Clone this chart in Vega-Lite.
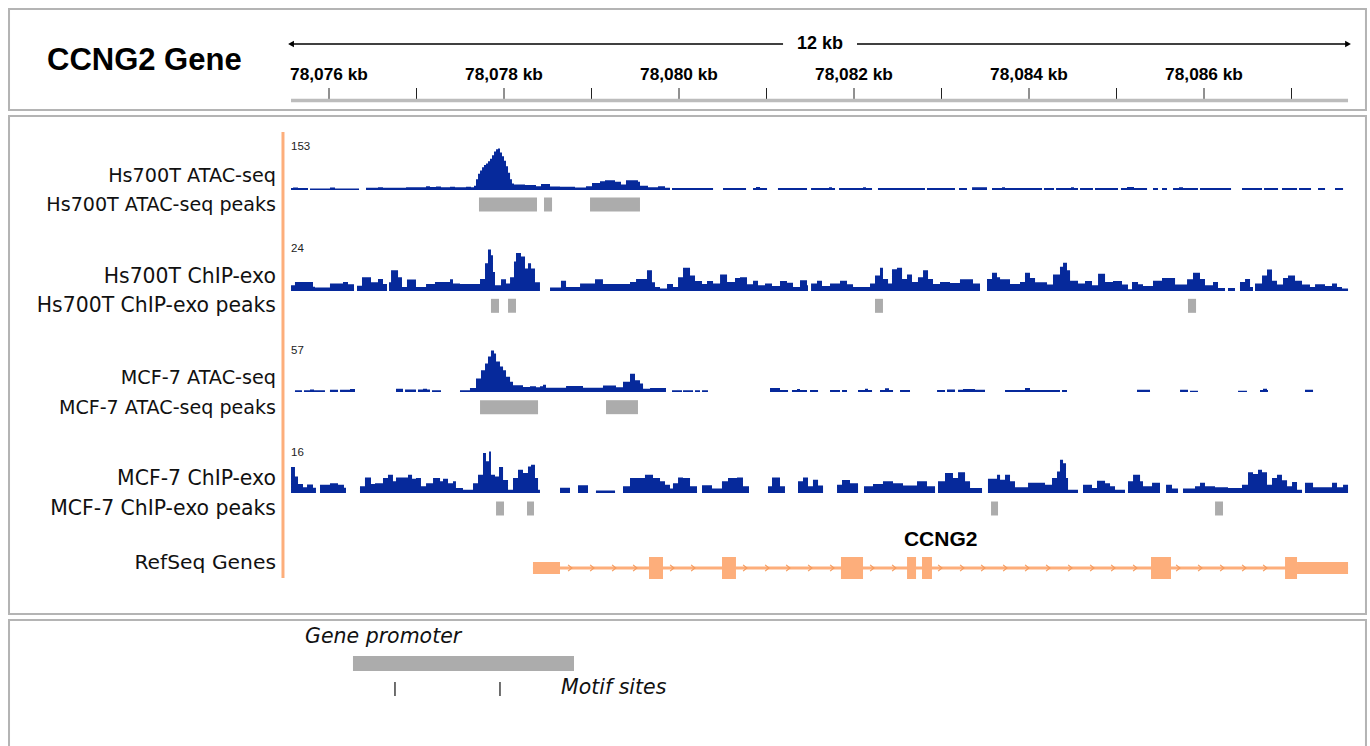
{
"$schema": "https://vega.github.io/schema/vega-lite/v6.json",
"width": 1370, "height": 746,
"autosize": {"type": "fit", "contains": "padding"},
"padding": 0,
"background": "white",
"config": {"view": {"stroke": null}, "axis": {"disable": true}, "legend": {"disable": true}},
"resolve": {"scale": {"y": "independent"}},
"datasets": {
"hsAtac": [
{"s":78075.566,"v":7},{"s":78075.589,"v":9},{"s":78075.646,"v":7},{"s":78075.760,"v":0},{"s":78075.783,"v":6},{"s":78076.011,"v":9},{"s":78076.069,"v":6},{"s":78076.343,"v":0},{"s":78076.423,"v":8},{"s":78076.560,"v":10},{"s":78076.617,"v":8},{"s":78076.880,"v":10},{"s":78077.109,"v":14},{"s":78077.154,"v":11},{"s":78077.223,"v":13},{"s":78077.280,"v":10},{"s":78077.383,"v":12},{"s":78077.440,"v":10},{"s":78077.566,"v":12},{"s":78077.623,"v":10},{"s":78077.657,"v":16},{"s":78077.680,"v":40},{"s":78077.703,"v":60},{"s":78077.726,"v":72},{"s":78077.749,"v":84},{"s":78077.771,"v":92},{"s":78077.794,"v":98},{"s":78077.817,"v":106},{"s":78077.840,"v":115},{"s":78077.863,"v":128},{"s":78077.886,"v":142},{"s":78077.909,"v":150},{"s":78077.931,"v":153},{"s":78077.954,"v":138},{"s":78077.977,"v":124},{"s":78078.000,"v":108},{"s":78078.023,"v":88},{"s":78078.046,"v":64},{"s":78078.069,"v":40},{"s":78078.091,"v":24},{"s":78078.114,"v":20},{"s":78078.240,"v":18},{"s":78078.366,"v":14},{"s":78078.423,"v":22},{"s":78078.526,"v":13},{"s":78078.640,"v":12},{"s":78078.811,"v":9},{"s":78078.937,"v":14},{"s":78079.006,"v":26},{"s":78079.097,"v":32},{"s":78079.154,"v":36},{"s":78079.269,"v":30},{"s":78079.337,"v":20},{"s":78079.394,"v":36},{"s":78079.531,"v":30},{"s":78079.554,"v":16},{"s":78079.646,"v":10},{"s":78079.760,"v":14},{"s":78079.840,"v":8},{"s":78079.897,"v":0},{"s":78079.920,"v":7},{"s":78080.389,"v":0},{"s":78080.503,"v":7},{"s":78080.766,"v":0},{"s":78080.846,"v":7},{"s":78080.880,"v":11},{"s":78080.926,"v":7},{"s":78081.006,"v":0},{"s":78081.131,"v":7},{"s":78081.463,"v":0},{"s":78081.509,"v":7},{"s":78081.714,"v":10},{"s":78081.749,"v":7},{"s":78081.783,"v":0},{"s":78081.829,"v":7},{"s":78082.103,"v":10},{"s":78082.137,"v":7},{"s":78082.206,"v":0},{"s":78082.274,"v":7},{"s":78082.811,"v":0},{"s":78082.834,"v":7},{"s":78083.154,"v":0},{"s":78083.200,"v":7},{"s":78083.291,"v":0},{"s":78083.349,"v":10},{"s":78083.520,"v":0},{"s":78083.577,"v":7},{"s":78083.691,"v":10},{"s":78083.726,"v":7},{"s":78084.149,"v":0},{"s":78084.171,"v":7},{"s":78084.286,"v":0},{"s":78084.309,"v":7},{"s":78084.480,"v":10},{"s":78084.514,"v":7},{"s":78084.560,"v":0},{"s":78084.583,"v":7},{"s":78084.731,"v":0},{"s":78084.754,"v":7},{"s":78085.017,"v":0},{"s":78085.051,"v":7},{"s":78085.120,"v":11},{"s":78085.200,"v":7},{"s":78085.349,"v":0},{"s":78085.417,"v":7},{"s":78085.474,"v":0},{"s":78085.520,"v":7},{"s":78085.577,"v":0},{"s":78085.646,"v":7},{"s":78085.714,"v":10},{"s":78085.760,"v":7},{"s":78085.931,"v":0},{"s":78085.954,"v":7},{"s":78086.309,"v":0},{"s":78086.434,"v":7},{"s":78086.663,"v":0},{"s":78086.686,"v":7},{"s":78086.846,"v":0},{"s":78086.891,"v":7},{"s":78087.063,"v":0},{"s":78087.086,"v":7},{"s":78087.223,"v":0},{"s":78087.303,"v":7},{"s":78087.383,"v":0},{"s":78087.497,"v":7},{"s":78087.589,"v":0}
],
"hsChip": [
{"s":78075.566,"v":3.3},{"s":78075.611,"v":5.2},{"s":78075.817,"v":2.5},{"s":78075.840,"v":2},{"s":78076.011,"v":4.3},{"s":78076.160,"v":5.2},{"s":78076.217,"v":3.9},{"s":78076.286,"v":0},{"s":78076.320,"v":3},{"s":78076.377,"v":8},{"s":78076.480,"v":5},{"s":78076.560,"v":7},{"s":78076.617,"v":4},{"s":78076.663,"v":0},{"s":78076.686,"v":5},{"s":78076.709,"v":12},{"s":78076.789,"v":8},{"s":78076.834,"v":2.3},{"s":78076.891,"v":6.6},{"s":78076.994,"v":2.3},{"s":78077.109,"v":4},{"s":78077.211,"v":5.2},{"s":78077.383,"v":6.8},{"s":78077.417,"v":4.3},{"s":78077.497,"v":4},{"s":78077.726,"v":7},{"s":78077.783,"v":16},{"s":78077.817,"v":24},{"s":78077.851,"v":20.7},{"s":78077.874,"v":11},{"s":78077.897,"v":3.3},{"s":78077.966,"v":6.8},{"s":78078.023,"v":4.3},{"s":78078.069,"v":8},{"s":78078.114,"v":17},{"s":78078.137,"v":22},{"s":78078.194,"v":20},{"s":78078.240,"v":13},{"s":78078.274,"v":16},{"s":78078.309,"v":13},{"s":78078.354,"v":5},{"s":78078.411,"v":0},{"s":78078.526,"v":2},{"s":78078.651,"v":6},{"s":78078.709,"v":2.3},{"s":78078.869,"v":4.3},{"s":78079.040,"v":6.8},{"s":78079.131,"v":4},{"s":78079.440,"v":5.2},{"s":78079.509,"v":7},{"s":78079.634,"v":12},{"s":78079.691,"v":5},{"s":78079.726,"v":2.3},{"s":78079.783,"v":1.4},{"s":78079.863,"v":4},{"s":78079.931,"v":2.3},{"s":78079.989,"v":8},{"s":78080.046,"v":13.5},{"s":78080.126,"v":9},{"s":78080.183,"v":5.8},{"s":78080.263,"v":4},{"s":78080.320,"v":5.8},{"s":78080.389,"v":4.3},{"s":78080.469,"v":9.5},{"s":78080.549,"v":5.2},{"s":78080.640,"v":7.5},{"s":78080.697,"v":8},{"s":78080.777,"v":3.9},{"s":78080.846,"v":6},{"s":78080.903,"v":3.3},{"s":78080.983,"v":4.3},{"s":78081.063,"v":2.9},{"s":78081.154,"v":5.8},{"s":78081.234,"v":4.8},{"s":78081.303,"v":2.3},{"s":78081.383,"v":6.2},{"s":78081.463,"v":3.3},{"s":78081.474,"v":0},{"s":78081.509,"v":4.3},{"s":78081.577,"v":6},{"s":78081.634,"v":2.9},{"s":78081.726,"v":4.3},{"s":78081.840,"v":6},{"s":78081.920,"v":3.9},{"s":78081.989,"v":2.3},{"s":78082.183,"v":4.3},{"s":78082.240,"v":9},{"s":78082.297,"v":13.5},{"s":78082.331,"v":7},{"s":78082.389,"v":4.3},{"s":78082.434,"v":12.6},{"s":78082.491,"v":13.4},{"s":78082.549,"v":7},{"s":78082.606,"v":9.5},{"s":78082.663,"v":5.2},{"s":78082.731,"v":8},{"s":78082.789,"v":12},{"s":78082.846,"v":7},{"s":78082.903,"v":4},{"s":78082.983,"v":5.2},{"s":78083.097,"v":4.6},{"s":78083.211,"v":6.8},{"s":78083.360,"v":4.3},{"s":78083.440,"v":0},{"s":78083.520,"v":7},{"s":78083.577,"v":10.6},{"s":78083.634,"v":8},{"s":78083.669,"v":6.8},{"s":78083.783,"v":4},{"s":78083.897,"v":5.2},{"s":78083.954,"v":10.6},{"s":78084.011,"v":7.5},{"s":78084.069,"v":5},{"s":78084.206,"v":3.7},{"s":78084.274,"v":9.5},{"s":78084.354,"v":14},{"s":78084.389,"v":16.3},{"s":78084.434,"v":12},{"s":78084.469,"v":6},{"s":78084.560,"v":4.3},{"s":78084.640,"v":5.8},{"s":78084.720,"v":3.3},{"s":78084.789,"v":10},{"s":78084.869,"v":5.2},{"s":78084.960,"v":5.8},{"s":78085.063,"v":3.7},{"s":78085.131,"v":1},{"s":78085.177,"v":5.2},{"s":78085.246,"v":3.9},{"s":78085.303,"v":2.9},{"s":78085.417,"v":6},{"s":78085.520,"v":7.5},{"s":78085.669,"v":3.7},{"s":78085.806,"v":6.8},{"s":78085.874,"v":10.6},{"s":78085.954,"v":7},{"s":78086.011,"v":3.3},{"s":78086.103,"v":5.2},{"s":78086.160,"v":1.7},{"s":78086.240,"v":0},{"s":78086.274,"v":1.7},{"s":78086.354,"v":0},{"s":78086.411,"v":5.2},{"s":78086.469,"v":7},{"s":78086.526,"v":2.3},{"s":78086.560,"v":0},{"s":78086.583,"v":4.3},{"s":78086.663,"v":9},{"s":78086.720,"v":12.4},{"s":78086.777,"v":6},{"s":78086.834,"v":3.7},{"s":78086.903,"v":7.5},{"s":78086.960,"v":9},{"s":78087.040,"v":6},{"s":78087.120,"v":3.7},{"s":78087.211,"v":2.3},{"s":78087.269,"v":3.9},{"s":78087.383,"v":2.9},{"s":78087.463,"v":4.3},{"s":78087.520,"v":2.3},{"s":78087.577,"v":1.4},{"s":78087.646,"v":0}
],
"mcfAtac": [
{"s":78075.611,"v":2.5},{"s":78075.691,"v":0},{"s":78075.714,"v":2.5},{"s":78075.783,"v":3.5},{"s":78075.829,"v":2.5},{"s":78075.954,"v":0},{"s":78076.011,"v":3},{"s":78076.103,"v":0},{"s":78076.126,"v":3},{"s":78076.240,"v":4},{"s":78076.297,"v":0},{"s":78076.766,"v":4.5},{"s":78076.846,"v":0},{"s":78076.869,"v":3.5},{"s":78076.994,"v":0},{"s":78077.017,"v":3.5},{"s":78077.074,"v":4.5},{"s":78077.120,"v":3.5},{"s":78077.154,"v":0},{"s":78077.177,"v":2.5},{"s":78077.280,"v":0},{"s":78077.497,"v":2.3},{"s":78077.611,"v":5.5},{"s":78077.680,"v":18.5},{"s":78077.737,"v":30},{"s":78077.783,"v":39},{"s":78077.817,"v":48.6},{"s":78077.851,"v":57},{"s":78077.886,"v":53},{"s":78077.909,"v":42},{"s":78077.954,"v":35},{"s":78077.989,"v":30},{"s":78078.023,"v":21},{"s":78078.069,"v":14},{"s":78078.103,"v":9.3},{"s":78078.217,"v":7},{"s":78078.297,"v":8},{"s":78078.366,"v":6.5},{"s":78078.411,"v":8},{"s":78078.446,"v":10},{"s":78078.480,"v":6},{"s":78078.709,"v":8.3},{"s":78078.903,"v":6},{"s":78079.131,"v":9},{"s":78079.280,"v":6.5},{"s":78079.360,"v":14},{"s":78079.440,"v":25},{"s":78079.497,"v":16},{"s":78079.554,"v":11.6},{"s":78079.589,"v":4.6},{"s":78079.669,"v":5.5},{"s":78079.851,"v":0},{"s":78079.920,"v":2.5},{"s":78080.034,"v":0},{"s":78080.046,"v":2.5},{"s":78080.160,"v":0},{"s":78080.183,"v":2.5},{"s":78080.240,"v":0},{"s":78080.263,"v":2.5},{"s":78080.331,"v":0},{"s":78081.040,"v":5.5},{"s":78081.154,"v":2.8},{"s":78081.246,"v":0},{"s":78081.291,"v":2.8},{"s":78081.349,"v":4},{"s":78081.383,"v":2.8},{"s":78081.463,"v":0},{"s":78081.497,"v":2.8},{"s":78081.589,"v":0},{"s":78081.726,"v":2.8},{"s":78081.840,"v":0},{"s":78081.863,"v":2.8},{"s":78081.920,"v":0},{"s":78082.046,"v":2.8},{"s":78082.126,"v":4.5},{"s":78082.160,"v":2.8},{"s":78082.206,"v":0},{"s":78082.297,"v":2.8},{"s":78082.354,"v":5},{"s":78082.400,"v":2.8},{"s":78082.446,"v":0},{"s":78082.526,"v":2.8},{"s":78082.640,"v":0},{"s":78082.949,"v":2.8},{"s":78083.040,"v":0},{"s":78083.063,"v":3.5},{"s":78083.154,"v":0},{"s":78083.189,"v":3},{"s":78083.246,"v":4.2},{"s":78083.383,"v":3},{"s":78083.497,"v":0},{"s":78083.726,"v":2.8},{"s":78083.954,"v":5.5},{"s":78084.011,"v":2.8},{"s":78084.354,"v":0},{"s":78084.377,"v":2.8},{"s":78084.434,"v":0},{"s":78085.234,"v":3},{"s":78085.383,"v":0},{"s":78085.726,"v":3},{"s":78085.817,"v":0},{"s":78085.840,"v":1.8},{"s":78085.931,"v":0},{"s":78086.389,"v":1.8},{"s":78086.491,"v":0},{"s":78086.640,"v":2.8},{"s":78086.674,"v":4.5},{"s":78086.720,"v":2.8},{"s":78086.731,"v":0},{"s":78087.154,"v":3},{"s":78087.246,"v":0}
],
"mcfChip": [
{"s":78075.566,"v":10},{"s":78075.611,"v":6.4},{"s":78075.646,"v":3.5},{"s":78075.703,"v":2.2},{"s":78075.749,"v":3.3},{"s":78075.817,"v":2},{"s":78075.851,"v":0},{"s":78075.897,"v":3.2},{"s":78076.011,"v":3.8},{"s":78076.103,"v":3.2},{"s":78076.171,"v":2},{"s":78076.194,"v":0},{"s":78076.354,"v":2.6},{"s":78076.411,"v":6},{"s":78076.480,"v":3.5},{"s":78076.526,"v":3.8},{"s":78076.617,"v":5.8},{"s":78076.674,"v":7},{"s":78076.731,"v":4.5},{"s":78076.766,"v":6},{"s":78076.823,"v":6},{"s":78076.903,"v":7},{"s":78076.949,"v":5.5},{"s":78076.994,"v":5.8},{"s":78077.051,"v":2.6},{"s":78077.109,"v":3.8},{"s":78077.189,"v":5.8},{"s":78077.269,"v":4.5},{"s":78077.303,"v":5.5},{"s":78077.360,"v":3.8},{"s":78077.417,"v":4.5},{"s":78077.451,"v":1.9},{"s":78077.531,"v":1.3},{"s":78077.646,"v":3.8},{"s":78077.703,"v":7},{"s":78077.760,"v":15.4},{"s":78077.794,"v":12.2},{"s":78077.829,"v":16},{"s":78077.851,"v":7},{"s":78077.897,"v":6.4},{"s":78077.943,"v":10},{"s":78077.989,"v":5},{"s":78078.046,"v":1.3},{"s":78078.103,"v":5.8},{"s":78078.160,"v":9},{"s":78078.217,"v":7.7},{"s":78078.274,"v":10.2},{"s":78078.309,"v":10.9},{"s":78078.354,"v":5.8},{"s":78078.389,"v":1.3},{"s":78078.411,"v":0},{"s":78078.640,"v":2},{"s":78078.754,"v":0},{"s":78078.846,"v":3},{"s":78078.960,"v":0},{"s":78079.051,"v":1},{"s":78079.269,"v":0},{"s":78079.360,"v":2.6},{"s":78079.440,"v":5.8},{"s":78079.611,"v":7},{"s":78079.703,"v":5.8},{"s":78079.783,"v":4.5},{"s":78079.840,"v":3.2},{"s":78079.897,"v":1.7},{"s":78079.931,"v":3.8},{"s":78079.989,"v":6},{"s":78080.046,"v":5.8},{"s":78080.126,"v":2.6},{"s":78080.206,"v":0},{"s":78080.263,"v":3},{"s":78080.377,"v":1.7},{"s":78080.491,"v":4.5},{"s":78080.560,"v":5.8},{"s":78080.663,"v":6},{"s":78080.731,"v":2.6},{"s":78080.800,"v":0},{"s":78081.017,"v":2.6},{"s":78081.063,"v":6},{"s":78081.154,"v":2.6},{"s":78081.211,"v":0},{"s":78081.360,"v":4.5},{"s":78081.417,"v":6},{"s":78081.474,"v":2.6},{"s":78081.531,"v":5.1},{"s":78081.589,"v":2.9},{"s":78081.646,"v":0},{"s":78081.806,"v":3.2},{"s":78081.863,"v":5},{"s":78081.954,"v":3.8},{"s":78082.046,"v":0},{"s":78082.114,"v":2.6},{"s":78082.217,"v":3.5},{"s":78082.331,"v":4.5},{"s":78082.446,"v":3.8},{"s":78082.560,"v":2.9},{"s":78082.720,"v":4.5},{"s":78082.834,"v":2.6},{"s":78082.926,"v":0},{"s":78082.960,"v":4.5},{"s":78083.040,"v":7.7},{"s":78083.131,"v":5.8},{"s":78083.189,"v":8},{"s":78083.269,"v":4.5},{"s":78083.326,"v":1.9},{"s":78083.463,"v":0},{"s":78083.531,"v":5.5},{"s":78083.634,"v":7},{"s":78083.669,"v":5.1},{"s":78083.726,"v":7},{"s":78083.783,"v":4.5},{"s":78083.840,"v":2.2},{"s":78083.989,"v":4},{"s":78084.183,"v":3.2},{"s":78084.263,"v":5.8},{"s":78084.320,"v":8.3},{"s":78084.354,"v":12.8},{"s":78084.389,"v":11.5},{"s":78084.423,"v":5.8},{"s":78084.446,"v":1.3},{"s":78084.560,"v":0},{"s":78084.617,"v":3.2},{"s":78084.720,"v":1.9},{"s":78084.777,"v":4.7},{"s":78084.869,"v":3.8},{"s":78084.926,"v":2.6},{"s":78084.983,"v":1.3},{"s":78085.097,"v":0},{"s":78085.131,"v":4.5},{"s":78085.189,"v":7},{"s":78085.269,"v":4.5},{"s":78085.303,"v":2.6},{"s":78085.406,"v":4},{"s":78085.497,"v":0},{"s":78085.566,"v":3.2},{"s":78085.634,"v":1.7},{"s":78085.703,"v":0},{"s":78085.760,"v":1.7},{"s":78085.897,"v":2.6},{"s":78085.954,"v":4},{"s":78086.011,"v":2.6},{"s":78086.126,"v":2.2},{"s":78086.274,"v":1.9},{"s":78086.434,"v":3.2},{"s":78086.503,"v":8},{"s":78086.560,"v":7.3},{"s":78086.617,"v":9},{"s":78086.663,"v":8},{"s":78086.720,"v":3.2},{"s":78086.777,"v":5.8},{"s":78086.834,"v":7},{"s":78086.891,"v":4.9},{"s":78086.949,"v":2.6},{"s":78087.006,"v":4.2},{"s":78087.063,"v":1.3},{"s":78087.120,"v":0},{"s":78087.154,"v":4},{"s":78087.246,"v":2.2},{"s":78087.463,"v":4},{"s":78087.520,"v":2.2},{"s":78087.589,"v":3.2},{"s":78087.646,"v":0}
],
"peaks": [
{"track":"Hs700T ATAC-seq","s":78077.714,"e":78078.377},{"track":"Hs700T ATAC-seq","s":78078.457,"e":78078.549},{"track":"Hs700T ATAC-seq","s":78078.983,"e":78079.554},
{"track":"Hs700T ChIP-exo","s":78077.851,"e":78077.943},{"track":"Hs700T ChIP-exo","s":78078.046,"e":78078.137},{"track":"Hs700T ChIP-exo","s":78082.240,"e":78082.331},{"track":"Hs700T ChIP-exo","s":78085.817,"e":78085.909},
{"track":"MCF-7 ATAC-seq","s":78077.726,"e":78078.389},{"track":"MCF-7 ATAC-seq","s":78079.166,"e":78079.531},
{"track":"MCF-7 ChIP-exo","s":78077.909,"e":78078.000},{"track":"MCF-7 ChIP-exo","s":78078.263,"e":78078.343},{"track":"MCF-7 ChIP-exo","s":78083.566,"e":78083.646},{"track":"MCF-7 ChIP-exo","s":78086.126,"e":78086.217}
],
"tracks": [
{"track":"Hs700T ATAC-seq","assay":"ATAC","peaks":"Hs700T ATAC-seq peaks","max":"153"},
{"track":"Hs700T ChIP-exo","assay":"ChIP","peaks":"Hs700T ChIP-exo peaks","max":"24"},
{"track":"MCF-7 ATAC-seq","assay":"ATAC","peaks":"MCF-7 ATAC-seq peaks","max":"57"},
{"track":"MCF-7 ChIP-exo","assay":"ChIP","peaks":"MCF-7 ChIP-exo peaks","max":"16"}
],
"gene": [{"gene":"CCNG2","s":78078.331,"e":78087.646}],
"geneParts": [
{"part":"utr","s":78078.331,"e":78078.640},{"part":"utr","s":78087.063,"e":78087.646},
{"part":"exon","s":78079.657,"e":78079.817},{"part":"exon","s":78080.491,"e":78080.651},{"part":"exon","s":78081.851,"e":78082.103},{"part":"exon","s":78082.606,"e":78082.709},{"part":"exon","s":78082.777,"e":78082.891},{"part":"exon","s":78085.394,"e":78085.623},{"part":"exon","s":78086.926,"e":78087.063}
],
"strand": [
{"pos":78078.754},{"pos":78079.006},{"pos":78079.257},{"pos":78079.497},{"pos":78079.920},{"pos":78080.160},{"pos":78080.754},{"pos":78081.006},{"pos":78081.246},{"pos":78081.497},{"pos":78081.749},{"pos":78082.206},{"pos":78082.457},{"pos":78082.983},{"pos":78083.234},{"pos":78083.474},{"pos":78083.726},{"pos":78083.977},{"pos":78084.217},{"pos":78084.469},{"pos":78084.720},{"pos":78084.960},{"pos":78085.211},{"pos":78085.703},{"pos":78085.954},{"pos":78086.206},{"pos":78086.457},{"pos":78086.697}
],
"ruler": [
{"kb":78076,"label":"78,076 kb"},{"kb":78077,"label":""},{"kb":78078,"label":"78,078 kb"},{"kb":78079,"label":""},{"kb":78080,"label":"78,080 kb"},{"kb":78081,"label":""},{"kb":78082,"label":"78,082 kb"},{"kb":78083,"label":""},{"kb":78084,"label":"78,084 kb"},{"kb":78085,"label":""},{"kb":78086,"label":"78,086 kb"},{"kb":78087,"label":""}
],
"rulerEnds": [{"kb":78075.566,"dir":"left"},{"kb":78087.646,"dir":"right"}],
"promoter": [{"feature":"Gene promoter","s":78076.274,"e":78078.800}],
"motifs": [{"pos":78076.754},{"pos":78077.954}]
},
"layer": [
{"data":{"values":[{}]},"mark":{"type":"rect","fill":"white","stroke":"#b4b4b4","strokeWidth":2},
 "encoding":{"x":{"datum":78072.343,"type":"quantitative","scale":{"domain":[78072.24,78087.897],"nice":false,"zero":false}},"x2":{"datum":78087.851},
 "y":{"datum":9,"type":"quantitative","scale":{"domain":[0,746],"reverse":true,"nice":false,"zero":false}},"y2":{"datum":110}}},
{"data":{"values":[{}]},"mark":{"type":"rect","fill":"white","stroke":"#b4b4b4","strokeWidth":2},
 "encoding":{"x":{"datum":78072.343,"type":"quantitative","scale":{"domain":[78072.24,78087.897],"nice":false,"zero":false}},"x2":{"datum":78087.851},
 "y":{"datum":116,"type":"quantitative","scale":{"domain":[0,746],"reverse":true,"nice":false,"zero":false}},"y2":{"datum":614}}},
{"data":{"values":[{}]},"mark":{"type":"rect","fill":"white","stroke":"#b4b4b4","strokeWidth":2,"clip":true},
 "encoding":{"x":{"datum":78072.343,"type":"quantitative","scale":{"domain":[78072.24,78087.897],"nice":false,"zero":false}},"x2":{"datum":78087.851},
 "y":{"datum":620,"type":"quantitative","scale":{"domain":[0,746],"reverse":true,"nice":false,"zero":false}},"y2":{"datum":770}}},
{"data":{"values":[{"title":"CCNG2 Gene"}]},"mark":{"type":"text","align":"left","baseline":"middle","font":"Liberation Sans","fontWeight":"bold","fontSize":31,"color":"black"},
 "encoding":{"x":{"datum":78072.777,"type":"quantitative","scale":{"domain":[78072.24,78087.897],"nice":false,"zero":false}},
 "y":{"datum":61,"type":"quantitative","scale":{"domain":[0,746],"reverse":true,"nice":false,"zero":false}},"text":{"field":"title"}}},
{"data":{"values":[{}]},"mark":{"type":"rule","color":"black","strokeWidth":1.5},
 "encoding":{"x":{"datum":78075.566,"type":"quantitative","scale":{"domain":[78072.24,78087.897],"nice":false,"zero":false}},"x2":{"datum":78081.189},
 "y":{"datum":44,"type":"quantitative","scale":{"domain":[0,746],"reverse":true,"nice":false,"zero":false}}}},
{"data":{"values":[{}]},"mark":{"type":"rule","color":"black","strokeWidth":1.5},
 "encoding":{"x":{"datum":78082.034,"type":"quantitative","scale":{"domain":[78072.24,78087.897],"nice":false,"zero":false}},"x2":{"datum":78087.646},
 "y":{"datum":44,"type":"quantitative","scale":{"domain":[0,746],"reverse":true,"nice":false,"zero":false}}}},
{"data":{"name":"rulerEnds"},"mark":{"type":"point","filled":true,"color":"black","size":45,"opacity":1},
 "encoding":{"x":{"field":"kb","type":"quantitative","scale":{"domain":[78072.24,78087.897],"nice":false,"zero":false}},
 "y":{"datum":44,"type":"quantitative","scale":{"domain":[0,746],"reverse":true,"nice":false,"zero":false}},
 "shape":{"field":"dir","type":"nominal","scale":{"domain":["left","right"],"range":["triangle-left","triangle-right"]},"legend":null}}},
{"data":{"values":[{"span":"12 kb"}]},"mark":{"type":"text","align":"center","baseline":"middle","font":"Liberation Sans","fontWeight":"bold","fontSize":18,"color":"black"},
 "encoding":{"x":{"datum":78081.611,"type":"quantitative","scale":{"domain":[78072.24,78087.897],"nice":false,"zero":false}},
 "y":{"datum":44,"type":"quantitative","scale":{"domain":[0,746],"reverse":true,"nice":false,"zero":false}},"text":{"field":"span"}}},
{"data":{"name":"ruler"},"mark":{"type":"text","align":"center","baseline":"middle","font":"Liberation Sans","fontWeight":"bold","fontSize":17.3,"color":"black"},
 "encoding":{"x":{"field":"kb","type":"quantitative","scale":{"domain":[78072.24,78087.897],"nice":false,"zero":false}},
 "y":{"datum":74.5,"type":"quantitative","scale":{"domain":[0,746],"reverse":true,"nice":false,"zero":false}},"text":{"field":"label"}}},
{"data":{"name":"ruler"},"mark":{"type":"rule","color":"#222222","strokeWidth":1},
 "encoding":{"x":{"field":"kb","type":"quantitative","scale":{"domain":[78072.24,78087.897],"nice":false,"zero":false}},
 "y":{"datum":88,"type":"quantitative","scale":{"domain":[0,746],"reverse":true,"nice":false,"zero":false}},"y2":{"datum":100}}},
{"data":{"values":[{}]},"mark":{"type":"rule","color":"#bcbcbc","strokeWidth":3.5},
 "encoding":{"x":{"datum":78075.566,"type":"quantitative","scale":{"domain":[78072.24,78087.897],"nice":false,"zero":false}},"x2":{"datum":78087.646},
 "y":{"datum":100.5,"type":"quantitative","scale":{"domain":[0,746],"reverse":true,"nice":false,"zero":false}}}},
{"data":{"values":[{}]},"mark":{"type":"rule","color":"#fdae7b","strokeWidth":3},
 "encoding":{"x":{"datum":78075.474,"type":"quantitative","scale":{"domain":[78072.24,78087.897],"nice":false,"zero":false}},
 "y":{"datum":132,"type":"quantitative","scale":{"domain":[0,746],"reverse":true,"nice":false,"zero":false}},"y2":{"datum":578}}},
{"data":{"name":"tracks"},"transform":[{"filter":"datum.assay === 'ATAC'"}],"mark":{"type":"text","align":"right","baseline":"middle","font":"DejaVu Sans","fontSize":19.2,"color":"#111111"},
 "encoding":{"x":{"datum":78075.394,"type":"quantitative","scale":{"domain":[78072.24,78087.897],"nice":false,"zero":false}},
 "y":{"field":"track","type":"nominal","scale":{"type":"point","domain":["Hs700T ATAC-seq","Hs700T ChIP-exo","MCF-7 ATAC-seq","MCF-7 ChIP-exo"],"range":[176,479],"padding":0}},"text":{"field":"track"}}},
{"data":{"name":"tracks"},"transform":[{"filter":"datum.assay === 'ChIP'"}],"mark":{"type":"text","align":"right","baseline":"middle","font":"DejaVu Sans","fontSize":20.4,"color":"#111111"},
 "encoding":{"x":{"datum":78075.394,"type":"quantitative","scale":{"domain":[78072.24,78087.897],"nice":false,"zero":false}},
 "y":{"field":"track","type":"nominal","scale":{"type":"point","domain":["Hs700T ATAC-seq","Hs700T ChIP-exo","MCF-7 ATAC-seq","MCF-7 ChIP-exo"],"range":[176,479],"padding":0}},"text":{"field":"track"}}},
{"data":{"name":"tracks"},"transform":[{"filter":"datum.assay === 'ATAC'"}],"mark":{"type":"text","align":"right","baseline":"middle","font":"DejaVu Sans","fontSize":19.1,"color":"#111111"},
 "encoding":{"x":{"datum":78075.394,"type":"quantitative","scale":{"domain":[78072.24,78087.897],"nice":false,"zero":false}},
 "y":{"field":"track","type":"nominal","scale":{"type":"point","domain":["Hs700T ATAC-seq","Hs700T ChIP-exo","MCF-7 ATAC-seq","MCF-7 ChIP-exo"],"range":[205,509],"padding":0}},"text":{"field":"peaks"}}},
{"data":{"name":"tracks"},"transform":[{"filter":"datum.assay === 'ChIP'"}],"mark":{"type":"text","align":"right","baseline":"middle","font":"DejaVu Sans","fontSize":20.4,"color":"#111111"},
 "encoding":{"x":{"datum":78075.394,"type":"quantitative","scale":{"domain":[78072.24,78087.897],"nice":false,"zero":false}},
 "y":{"field":"track","type":"nominal","scale":{"type":"point","domain":["Hs700T ATAC-seq","Hs700T ChIP-exo","MCF-7 ATAC-seq","MCF-7 ChIP-exo"],"range":[205,509],"padding":0}},"text":{"field":"peaks"}}},
{"data":{"values":[{"label":"RefSeq Genes"}]},"mark":{"type":"text","align":"right","baseline":"middle","font":"DejaVu Sans","fontSize":20.3,"color":"#111111"},
 "encoding":{"x":{"datum":78075.394,"type":"quantitative","scale":{"domain":[78072.24,78087.897],"nice":false,"zero":false}},
 "y":{"datum":563,"type":"quantitative","scale":{"domain":[0,746],"reverse":true,"nice":false,"zero":false}},"text":{"field":"label"}}},
{"data":{"name":"tracks"},"mark":{"type":"text","align":"left","baseline":"middle","font":"Liberation Sans","fontSize":11.5,"color":"#222222"},
 "encoding":{"x":{"datum":78075.566,"type":"quantitative","scale":{"domain":[78072.24,78087.897],"nice":false,"zero":false}},
 "y":{"field":"track","type":"nominal","scale":{"type":"point","domain":["Hs700T ATAC-seq","Hs700T ChIP-exo","MCF-7 ATAC-seq","MCF-7 ChIP-exo"],"range":[147,453],"padding":0}},"text":{"field":"max"}}},
{"data":{"name":"hsAtac"},"mark":{"type":"area","interpolate":"step-after","color":"#06299b","opacity":1},
 "encoding":{"x":{"field":"s","type":"quantitative","scale":{"domain":[78072.24,78087.897],"nice":false,"zero":false}},
 "y":{"field":"v","type":"quantitative","scale":{"domain":[-2049.8,700.5],"nice":false,"zero":false}},"y2":{"datum":0}}},
{"data":{"name":"hsChip"},"mark":{"type":"area","interpolate":"step-after","color":"#06299b","opacity":1},
 "encoding":{"x":{"field":"s","type":"quantitative","scale":{"domain":[78072.24,78087.897],"nice":false,"zero":false}},
 "y":{"field":"v","type":"quantitative","scale":{"domain":[-263.13,168.29],"nice":false,"zero":false}},"y2":{"datum":0}}},
{"data":{"name":"mcfAtac"},"mark":{"type":"area","interpolate":"step-after","color":"#06299b","opacity":1},
 "encoding":{"x":{"field":"s","type":"quantitative","scale":{"domain":[78072.24,78087.897],"nice":false,"zero":false}},
 "y":{"field":"v","type":"quantitative","scale":{"domain":[-486.2,538.4],"nice":false,"zero":false}},"y2":{"datum":0}}},
{"data":{"name":"mcfChip"},"mark":{"type":"area","interpolate":"step-after","color":"#06299b","opacity":1},
 "encoding":{"x":{"field":"s","type":"quantitative","scale":{"domain":[78072.24,78087.897],"nice":false,"zero":false}},
 "y":{"field":"v","type":"quantitative","scale":{"domain":[-97.54,190.07],"nice":false,"zero":false}},"y2":{"datum":0}}},
{"data":{"name":"peaks"},"mark":{"type":"bar","color":"#acacac","size":14},
 "encoding":{"x":{"field":"s","type":"quantitative","scale":{"domain":[78072.24,78087.897],"nice":false,"zero":false}},"x2":{"field":"e"},
 "y":{"field":"track","type":"nominal","scale":{"type":"point","domain":["Hs700T ATAC-seq","Hs700T ChIP-exo","MCF-7 ATAC-seq","MCF-7 ChIP-exo"],"range":[204.5,508.5],"padding":0}}}},
{"data":{"name":"gene"},"mark":{"type":"rule","color":"#fdae7b","strokeWidth":3},
 "encoding":{"x":{"field":"s","type":"quantitative","scale":{"domain":[78072.24,78087.897],"nice":false,"zero":false}},"x2":{"field":"e"},
 "y":{"datum":568,"type":"quantitative","scale":{"domain":[0,746],"reverse":true,"nice":false,"zero":false}}}},
{"data":{"name":"strand"},"mark":{"type":"point","shape":"M-0.6,-1L0.6,0L-0.6,1","filled":false,"color":"#f59a5c","strokeWidth":1.2,"size":40,"opacity":1},
 "encoding":{"x":{"field":"pos","type":"quantitative","scale":{"domain":[78072.24,78087.897],"nice":false,"zero":false}},
 "y":{"datum":568,"type":"quantitative","scale":{"domain":[0,746],"reverse":true,"nice":false,"zero":false}}}},
{"data":{"name":"geneParts"},"transform":[{"filter":"datum.part === 'exon'"}],"mark":{"type":"rect","color":"#fdae7b"},
 "encoding":{"x":{"field":"s","type":"quantitative","scale":{"domain":[78072.24,78087.897],"nice":false,"zero":false}},"x2":{"field":"e"},
 "y":{"datum":557,"type":"quantitative","scale":{"domain":[0,746],"reverse":true,"nice":false,"zero":false}},"y2":{"datum":579}}},
{"data":{"name":"geneParts"},"transform":[{"filter":"datum.part === 'utr'"}],"mark":{"type":"rect","color":"#fdae7b"},
 "encoding":{"x":{"field":"s","type":"quantitative","scale":{"domain":[78072.24,78087.897],"nice":false,"zero":false}},"x2":{"field":"e"},
 "y":{"datum":562,"type":"quantitative","scale":{"domain":[0,746],"reverse":true,"nice":false,"zero":false}},"y2":{"datum":574}}},
{"data":{"name":"gene"},"mark":{"type":"text","align":"center","baseline":"middle","font":"Liberation Sans","fontWeight":"bold","fontSize":21,"color":"black"},
 "encoding":{"x":{"datum":78082.99,"type":"quantitative","scale":{"domain":[78072.24,78087.897],"nice":false,"zero":false}},
 "y":{"datum":540,"type":"quantitative","scale":{"domain":[0,746],"reverse":true,"nice":false,"zero":false}},"text":{"field":"gene"}}},
{"data":{"name":"promoter"},"mark":{"type":"text","align":"left","baseline":"middle","font":"DejaVu Sans","fontStyle":"italic","fontSize":20.5,"color":"#111111"},
 "encoding":{"x":{"datum":78075.726,"type":"quantitative","scale":{"domain":[78072.24,78087.897],"nice":false,"zero":false}},
 "y":{"datum":637,"type":"quantitative","scale":{"domain":[0,746],"reverse":true,"nice":false,"zero":false}},"text":{"field":"feature"}}},
{"data":{"name":"promoter"},"mark":{"type":"rect","color":"#acacac"},
 "encoding":{"x":{"field":"s","type":"quantitative","scale":{"domain":[78072.24,78087.897],"nice":false,"zero":false}},"x2":{"field":"e"},
 "y":{"datum":656,"type":"quantitative","scale":{"domain":[0,746],"reverse":true,"nice":false,"zero":false}},"y2":{"datum":671}}},
{"data":{"name":"motifs"},"mark":{"type":"rule","color":"#111111","strokeWidth":1.2},
 "encoding":{"x":{"field":"pos","type":"quantitative","scale":{"domain":[78072.24,78087.897],"nice":false,"zero":false}},
 "y":{"datum":682,"type":"quantitative","scale":{"domain":[0,746],"reverse":true,"nice":false,"zero":false}},"y2":{"datum":696}}},
{"data":{"values":[{"label":"Motif sites"}]},"mark":{"type":"text","align":"left","baseline":"middle","font":"DejaVu Sans","fontStyle":"italic","fontSize":20.5,"color":"#111111"},
 "encoding":{"x":{"datum":78078.651,"type":"quantitative","scale":{"domain":[78072.24,78087.897],"nice":false,"zero":false}},
 "y":{"datum":688,"type":"quantitative","scale":{"domain":[0,746],"reverse":true,"nice":false,"zero":false}},"text":{"field":"label"}}}
]
}
